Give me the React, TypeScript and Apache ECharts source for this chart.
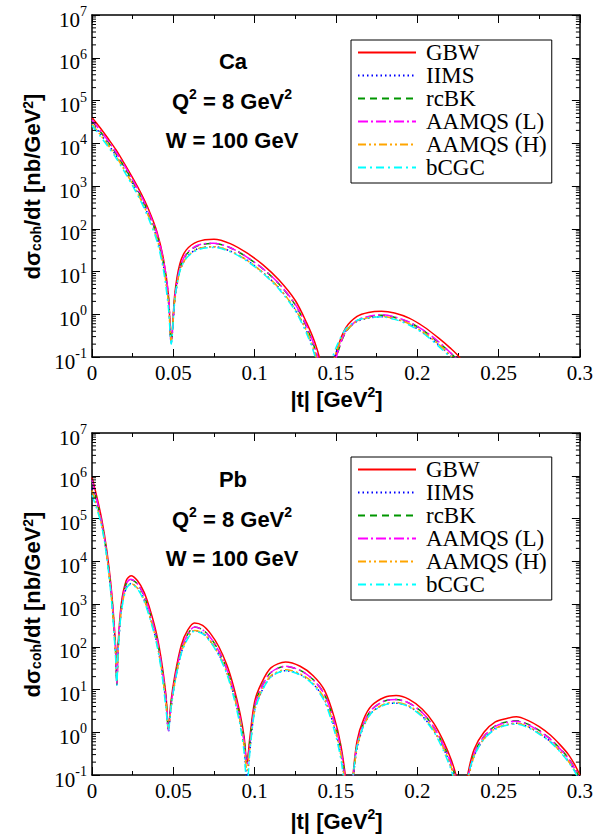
import React, { useEffect, useRef } from "react";
import * as echarts from "echarts";

// ---------------- Data ----------------
const NAMES = ["GBW", "IIMS", "rcBK", "AAMQS (L)", "AAMQS (H)", "bCGC"];

// Ca panel
const tCa = [0, 0.005, 0.01, 0.015, 0.02, 0.025, 0.03, 0.035, 0.04, 0.044, 0.047, 0.0487, 0.051, 0.054, 0.058, 0.065, 0.075, 0.085, 0.095, 0.105, 0.115, 0.125, 0.132, 0.137, 0.141, 0.144, 0.147, 0.151, 0.156, 0.163, 0.17, 0.178, 0.186, 0.195, 0.204, 0.213, 0.22, 0.226, 0.232, 0.238];
const caGBW = [4.0e4, 2.3e4, 1.27e4, 6.8e3, 3.3e3, 1.55e3, 690, 270, 83, 19, 2.8, 0.23, 3.2, 15, 32, 50, 57, 45, 27.5, 14.5, 6.3, 2.1, 0.63, 0.22, 0.063, 0.01, 0.032, 0.16, 0.48, 0.89, 1.1, 1.17, 1.07, 0.81, 0.51, 0.28, 0.166, 0.098, 0.04, 0.01];
const caIIMS = [2.95e4, 1.7e4, 9.4e3, 5.0e3, 2.45e3, 1.15e3, 500, 195, 60, 13.2, 2.0, 0.22, 2.2, 10, 21, 34, 38, 30, 18.6, 9.5, 4.1, 1.3, 0.4, 0.125, 0.032, 0.016, 0.05, 0.16, 0.4, 0.68, 0.81, 0.87, 0.78, 0.59, 0.36, 0.195, 0.11, 0.06, 0.025, 0.006];
const caRcBK = [3.3e4, 1.9e4, 1.06e4, 5.6e3, 2.75e3, 1.29e3, 575, 224, 69, 15.8, 2.4, 0.24, 2.6, 12, 25, 40, 45.5, 36, 22, 11.6, 5.1, 1.65, 0.5, 0.16, 0.045, 0.01, 0.025, 0.12, 0.38, 0.71, 0.87, 0.95, 0.85, 0.65, 0.41, 0.22, 0.13, 0.074, 0.032, 0.008];
const caAAMQSL = [3.5e4, 2.0e4, 1.13e4, 6.0e3, 3.0e3, 1.4e3, 620, 240, 76, 18, 2.8, 0.21, 2.5, 12, 26, 41, 46, 36, 22, 11.7, 5.2, 1.7, 0.53, 0.17, 0.045, 0.01, 0.025, 0.126, 0.39, 0.72, 0.89, 0.97, 0.87, 0.66, 0.42, 0.23, 0.13, 0.076, 0.032, 0.008];
const caAAMQSH = [2.8e4, 1.6e4, 9.0e3, 4.8e3, 2.35e3, 1.1e3, 480, 186, 58, 12.6, 1.9, 0.24, 2.3, 10, 21, 34, 38, 30, 18.6, 9.5, 4.1, 1.3, 0.4, 0.128, 0.032, 0.016, 0.05, 0.16, 0.4, 0.69, 0.83, 0.89, 0.79, 0.6, 0.37, 0.2, 0.112, 0.063, 0.025, 0.006];
const caBCGC = [2.6e4, 1.48e4, 8.2e3, 4.4e3, 2.15e3, 1.0e3, 440, 166, 50, 10.5, 1.4, 0.2, 2.4, 10, 20.4, 32, 36.5, 29, 17.8, 9.1, 3.85, 1.2, 0.35, 0.108, 0.025, 0.032, 0.08, 0.2, 0.45, 0.72, 0.83, 0.87, 0.76, 0.56, 0.35, 0.18, 0.1, 0.054, 0.02, 0.005];

// Pb panel
const tPb = [0, 0.003, 0.006, 0.009, 0.012, 0.0145, 0.0153, 0.016, 0.018, 0.021, 0.024, 0.028, 0.032, 0.036, 0.04, 0.043, 0.0455, 0.047, 0.0485, 0.051, 0.055, 0.059, 0.063, 0.068, 0.073, 0.078, 0.083, 0.087, 0.091, 0.0935, 0.0953, 0.097, 0.1, 0.104, 0.11, 0.119, 0.128, 0.136, 0.143, 0.149, 0.153, 0.156, 0.158, 0.1605, 0.163, 0.167, 0.172, 0.18, 0.187, 0.195, 0.203, 0.21, 0.216, 0.221, 0.224, 0.227, 0.231, 0.235, 0.241, 0.248, 0.255, 0.261, 0.268, 0.275, 0.282, 0.288, 0.293, 0.297, 0.3];
const pbGBW = [9.3e5, 3.2e5, 9.5e4, 1.9e4, 2.0e3, 100, 13, 100, 1.0e3, 3.5e3, 4.6e3, 3.5e3, 1.9e3, 680, 178, 40, 7.1, 1.15, 5.0, 22, 112, 250, 360, 316, 200, 100, 37, 12, 2.8, 0.8, 0.19, 0.71, 5.2, 13.5, 32, 44, 35, 21, 9.5, 2.2, 0.5, 0.08, 0.01, 0.1, 0.63, 2.0, 4.2, 6.6, 7.2, 5.9, 3.5, 1.66, 0.63, 0.22, 0.09, 0.01, 0.1, 0.4, 1.0, 1.74, 2.1, 2.3, 1.9, 1.35, 0.85, 0.5, 0.3, 0.17, 0.1];
const pbIIMS = [5.2e5, 2.1e5, 7.2e4, 1.45e4, 1.4e3, 71, 13, 71, 660, 2.35e3, 3.0e3, 2.35e3, 1.26e3, 450, 117, 26, 4.7, 1.05, 3.3, 14.8, 74, 166, 240, 210, 132, 66, 24.5, 7.9, 1.8, 0.45, 0.08, 0.35, 3.2, 8.5, 20, 27.5, 22.4, 13.5, 5.8, 1.3, 0.3, 0.05, 0.016, 0.08, 0.42, 1.38, 2.9, 4.5, 4.8, 4.0, 2.4, 1.12, 0.43, 0.145, 0.056, 0.0126, 0.07, 0.28, 0.7, 1.23, 1.5, 1.62, 1.35, 0.95, 0.6, 0.355, 0.21, 0.123, 0.07];
const pbRcBK = [7.4e5, 2.5e5, 7.8e4, 1.55e4, 1.6e3, 83, 13.5, 89, 830, 2.95e3, 3.7e3, 2.9e3, 1.55e3, 550, 145, 32, 5.9, 1.2, 4.2, 18.2, 89, 200, 290, 250, 160, 79, 29.5, 9.5, 2.3, 0.66, 0.2, 0.56, 4.2, 11, 25, 35, 28, 17, 7.6, 1.75, 0.4, 0.065, 0.01, 0.08, 0.5, 1.6, 3.4, 5.4, 5.8, 4.8, 2.9, 1.35, 0.51, 0.18, 0.072, 0.01, 0.08, 0.32, 0.8, 1.41, 1.74, 1.86, 1.55, 1.1, 0.69, 0.41, 0.245, 0.14, 0.081];
const pbAAMQSL = [7.9e5, 2.7e5, 8.1e4, 1.6e4, 1.7e3, 89, 14, 89, 830, 2.95e3, 3.8e3, 2.95e3, 1.6e3, 560, 148, 33, 6.0, 1.1, 4.0, 17.8, 89, 200, 290, 250, 160, 79, 29.5, 9.5, 2.2, 0.63, 0.18, 0.5, 4.0, 10.7, 25, 35, 28, 17, 7.6, 1.75, 0.4, 0.065, 0.01, 0.08, 0.5, 1.6, 3.4, 5.4, 5.8, 4.8, 2.9, 1.35, 0.51, 0.18, 0.072, 0.01, 0.08, 0.32, 0.8, 1.38, 1.7, 1.82, 1.5, 1.07, 0.68, 0.4, 0.24, 0.138, 0.08];
const pbAAMQSH = [4.5e5, 1.9e5, 6.9e4, 1.4e4, 1.38e3, 69, 16, 79, 680, 2.4e3, 3.0e3, 2.35e3, 1.26e3, 450, 117, 26, 4.7, 1.26, 3.5, 15, 76, 166, 240, 210, 132, 66, 24.5, 7.9, 1.86, 0.5, 0.126, 0.4, 3.3, 8.9, 21, 29, 23.4, 14.1, 6.0, 1.35, 0.31, 0.05, 0.016, 0.08, 0.44, 1.4, 2.95, 4.6, 5.0, 4.1, 2.45, 1.15, 0.44, 0.15, 0.06, 0.0126, 0.07, 0.28, 0.7, 1.23, 1.5, 1.62, 1.35, 0.95, 0.6, 0.355, 0.21, 0.123, 0.07];
const pbBCGC = [3.5e5, 1.66e5, 6.5e4, 1.3e4, 1.2e3, 56, 12.6, 71, 630, 2.24e3, 2.9e3, 2.24e3, 1.17e3, 410, 105, 22.4, 3.5, 1.12, 3.5, 14.5, 71, 158, 230, 200, 126, 62, 22.4, 6.9, 1.5, 0.35, 0.05, 0.32, 3.0, 8.3, 19.5, 27.5, 21.9, 12.9, 5.2, 1.1, 0.24, 0.04, 0.025, 0.1, 0.48, 1.4, 2.85, 4.4, 4.8, 3.9, 2.3, 1.05, 0.38, 0.126, 0.045, 0.02, 0.09, 0.28, 0.69, 1.17, 1.45, 1.55, 1.29, 0.91, 0.58, 0.34, 0.2, 0.117, 0.068];

const xTickLabels = ["0", "0.05", "0.1", "0.15", "0.2", "0.25", "0.3"];

// ---------------- Styles ----------------
const COLORS = ["#ff0000", "#0000ff", "#009600", "#ff00ff", "#ffa500", "#00ffff"];
const DASHES: any[] = ["solid", [1.5, 3], [7, 5], [10, 3, 2, 3], [8, 3, 2, 3, 2, 3], [8, 4, 2, 4]];
const SERIF = "Liberation Serif";
const SANS = "Liberation Sans";

const panels = [
  { label: "Ca", t: tCa, series: [caGBW, caIIMS, caRcBK, caAAMQSL, caAAMQSH, caBCGC], top: 15, xTitleY: 396, legendTop: 40 },
  { label: "Pb", t: tPb, series: [pbGBW, pbIIMS, pbRcBK, pbAAMQSL, pbAAMQSH, pbBCGC], top: 433, xTitleY: 818, legendTop: 457 },
];

const GRID_LEFT = 92;
const GRID_W = 489;
const GRID_H = 342;

export default function App() {
  const ref = useRef<HTMLDivElement>(null);
  useEffect(() => {
    const chart = echarts.init(ref.current!, null, { renderer: "svg" });

    const minorVals: number[] = [];
    for (let d = -1; d <= 6; d++) for (let m = 2; m <= 9; m++) minorVals.push(m * Math.pow(10, d));

    const grid: any[] = [];
    const xAxis: any[] = [];
    const yAxis: any[] = [];
    const series: any[] = [];
    const legend: any[] = [];
    const graphic: any[] = [];

    const axisLineStyle = { color: "#000", width: 1.5 };
    const tickStyle = { color: "#000", width: 1 };

    panels.forEach((p, gi) => {
      grid.push({ left: GRID_LEFT, top: p.top, width: GRID_W, height: GRID_H, show: false });
      const mkX = (position: string, showLabel: boolean) => ({
        type: "value",
        gridIndex: gi,
        position,
        min: 0,
        max: 0.3,
        interval: 0.05,
        axisLine: { show: true, onZero: false, lineStyle: axisLineStyle },
        axisTick: { show: true, inside: true, length: 8, lineStyle: tickStyle },
        minorTick: { show: true, splitNumber: 2, length: 4, lineStyle: tickStyle },
        splitLine: { show: false },
        minorSplitLine: { show: false },
        axisLabel: {
          show: showLabel,
          margin: 5,
          color: "#000",
          fontFamily: SERIF,
          fontSize: 21,
          formatter: (v: number) => xTickLabels[Math.round(v / 0.05)] ?? "",
        },
      });
      xAxis.push(mkX("bottom", true));
      xAxis.push(mkX("top", false));
      const mkY = (position: string, showLabel: boolean) => ({
        type: "log",
        logBase: 10,
        gridIndex: gi,
        position,
        min: 0.1,
        max: 1e7,
        axisLine: { show: true, onZero: false, lineStyle: axisLineStyle },
        axisTick: { show: true, inside: true, length: 8, lineStyle: tickStyle },
        splitLine: { show: false },
        axisLabel: {
          show: showLabel,
          margin: 5,
          color: "#000",
          formatter: (v: number) => `{b|10}{s|${Math.round(Math.log10(v))}}`,
          rich: {
            b: { fontFamily: SERIF, fontSize: 21, lineHeight: 21, padding: [9, 0, 0, 0], color: "#000" },
            s: { fontFamily: SERIF, fontSize: 14, lineHeight: 14, verticalAlign: "top", color: "#000" },
          },
        },
      });
      yAxis.push(mkY("left", true));
      yAxis.push(mkY("right", false));

      const xi = gi * 2;
      const yi = gi * 2;

      // minor log ticks (left and right edges)
      series.push({
        type: "custom",
        xAxisIndex: xi,
        yAxisIndex: yi,
        silent: true,
        clip: false,
        z: 5,
        data: minorVals.map((v) => [0, v]),
        renderItem: (params: any, api: any) => {
          const pt = api.coord([0, api.value(1)]);
          const cs = params.coordSys;
          return {
            type: "group",
            children: [
              { type: "line", shape: { x1: cs.x, y1: pt[1], x2: cs.x + 4, y2: pt[1] }, style: { stroke: "#000", lineWidth: 1 } },
              { type: "line", shape: { x1: cs.x + cs.width - 4, y1: pt[1], x2: cs.x + cs.width, y2: pt[1] }, style: { stroke: "#000", lineWidth: 1 } },
            ],
          };
        },
      });

      p.series.forEach((vals, si) => {
        series.push({
          type: "line",
          name: NAMES[si],
          xAxisIndex: xi,
          yAxisIndex: yi,
          data: p.t.map((x, i) => [x, vals[i]]),
          symbol: "none",
          showSymbol: false,
          smooth: 0.3,
          clip: true,
          z: 3,
          lineStyle: { color: COLORS[si], width: 1.5, type: DASHES[si] },
          itemStyle: { color: COLORS[si] },
        });
      });

      legend.push({
        data: NAMES,
        orient: "vertical",
        left: 351,
        top: p.legendTop,
        padding: [1, 5, 4, 6],
        itemGap: 0,
        itemWidth: 58,
        itemHeight: 14,
        borderColor: "#000",
        borderWidth: 1,
        backgroundColor: "#fff",
        selectedMode: false,
        itemStyle: { color: "rgba(0,0,0,0)", borderWidth: 0, opacity: 0 },
        textStyle: { fontFamily: SERIF, fontSize: 23, lineHeight: 22, color: "#000", padding: [0, 0, 0, 5] },
      });

      const oy = p.top - 15;
      const boldRich = (size: number, extra: any = {}) => ({ fontFamily: SANS, fontWeight: "bold", fontSize: size, fill: "#000", color: "#000", ...extra });

      // y axis title
      graphic.push({
        type: "text",
        x: 31.5,
        y: 186.5 + oy,
        rotation: Math.PI / 2,
        style: {
          text: "{m|dσ}{sub|coh}{m|/dt [nb/GeV}{sup|2}{m|]}",
          align: "center",
          verticalAlign: "middle",
          rich: {
            m: boldRich(22, { lineHeight: 22, padding: [5.5, 0, 3, 0] }),
            sub: boldRich(14, { lineHeight: 14, verticalAlign: "bottom" }),
            sup: boldRich(14, { lineHeight: 14, verticalAlign: "top" }),
          },
        },
      });
      // x axis title
      graphic.push({
        type: "text",
        x: 336.5,
        y: p.xTitleY,
        style: {
          text: "{m||t| [GeV}{sup|2}{m|]}",
          align: "center",
          verticalAlign: "middle",
          rich: {
            m: boldRich(22, { lineHeight: 22, padding: [7, 0, 0, 0] }),
            sup: boldRich(14, { lineHeight: 14, verticalAlign: "top" }),
          },
        },
      });
      // annotations
      graphic.push({
        type: "text",
        x: 233,
        y: 61 + oy,
        style: { text: p.label, align: "center", verticalAlign: "middle", fontFamily: SANS, fontWeight: "bold", fontSize: 22, fill: "#000" },
      });
      graphic.push({
        type: "text",
        x: 232,
        y: 98 + oy,
        style: {
          text: "{m|Q}{s|2}{m| = 8 GeV}{s|2}",
          align: "center",
          verticalAlign: "middle",
          rich: {
            m: boldRich(22, { lineHeight: 22, padding: [6, 0, 0, 0] }),
            s: boldRich(14, { lineHeight: 14, verticalAlign: "top" }),
          },
        },
      });
      graphic.push({
        type: "text",
        x: 232,
        y: 140 + oy,
        style: { text: "W = 100 GeV", align: "center", verticalAlign: "middle", fontFamily: SANS, fontWeight: "bold", fontSize: 22, fill: "#000" },
      });
    });

    chart.setOption({
      animation: false,
      backgroundColor: "#fff",
      grid,
      xAxis,
      yAxis,
      series,
      legend,
      graphic,
    });
    return () => chart.dispose();
  }, []);

  return (
    <div
      ref={ref}
      style={{ position: "fixed", left: 0, top: 0, width: 596, height: 840, background: "#fff" }}
    />
  );
}
